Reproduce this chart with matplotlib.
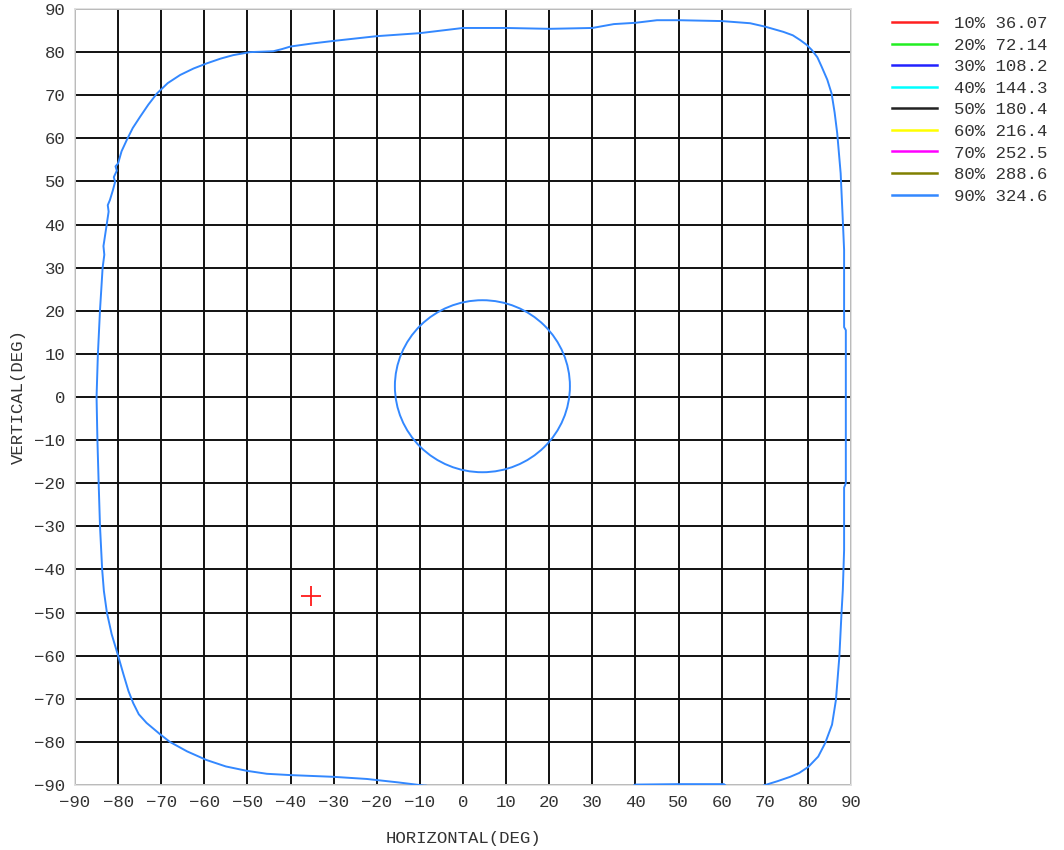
import matplotlib
matplotlib.use("Agg")
import matplotlib.pyplot as plt
from matplotlib.lines import Line2D
from matplotlib.patches import Ellipse

# Isointensity levels (percent of peak, candela)
level_pct = [10, 20, 30, 40, 50, 60, 70, 80, 90]
level_cd = ["36.07", "72.14", "108.2", "144.3", "180.4", "216.4", "252.5", "288.6", "324.6"]
level_colors = ["#ff2020", "#22ee22", "#2222ff", "#00ffff", "#222222",
                "#ffff00", "#ff00ff", "#808000", "#3388ff"]

# 90% contour, outer loop (deg)
outer_h = [-8.5, -15, -22.3, -30.1, -40.1, -45.5, -50.2, -55, -59.5, -64, -68, -70.3,
           -73.4, -75.2, -76.5, -77.6, -78.8, -80.0, -81.5, -82.6, -83.3, -83.7, -84.2,
           -84.5, -84.8, -85.0, -84.7, -84.2, -83.9, -83.6, -83.2, -83.4, -82.6, -82.2,
           -82.4, -81.9, -81.2, -80.7, -81.0, -80.3, -80.6, -80.0, -79.2, -78.0, -76.6,
           -74.9, -73.0, -71.0, -68.5, -65.6, -62.5, -59.4, -56.2, -53.3, -49.4, -46.5,
           -44.0, -42.0, -40.0, -35.0, -30, -20, -10, 0, 10, 20, 30, 35, 40, 45, 50, 60,
           66.6, 70.1, 74.3, 76.5, 78.2, 79.7, 80.9, 82.2, 83.2, 84.5, 85.5, 86.2, 86.8,
           87.6, 88.1, 88.4, 88.4, 88.8, 88.8, 88.4, 88.4, 88.1, 87.8, 87.3, 86.5, 85.6,
           84.0, 82.4, 80.1, 78.0, 75.9, 73.0, 70.1, 66, 62, 60.5, 50, 40, 39, 30, 0, -8.5]
outer_v = [-90.2, -89.4, -88.6, -88.1, -87.7, -87.4, -86.7, -85.7, -84.2, -82.2, -80.0,
           -78.2, -75.6, -73.6, -71.0, -68.2, -64.2, -60.0, -55, -50.0, -45, -40.0, -30.0,
           -20.4, -10.0, 0.0, 9.7, 20.2, 25, 29.9, 33, 35, 40.3, 43, 44.5, 45.7, 48, 49.9,
           51, 52.5, 53.5, 54.2, 57, 59.6, 62.4, 65.0, 67.8, 70.4, 72.8, 74.7, 76.2, 77.4,
           78.5, 79.3, 80.0, 80.1, 80.2, 80.7, 81.3, 82.0, 82.6, 83.7, 84.4, 85.6, 85.6,
           85.4, 85.6, 86.5, 86.8, 87.4, 87.4, 87.2, 86.7, 85.9, 84.7, 83.9, 82.8, 81.7,
           80.5, 78.8, 76.6, 73.6, 70.4, 66.0, 61.2, 51.9, 41.0, 34.1, 16.2, 15.5, -20.0,
           -21, -35.5, -44.8, -50.1, -60.2, -70.3, -76.0, -80.3, -83.4, -85.8, -87.2,
           -88.1, -89.1, -90.0, -91.5, -91, -89.8, -89.8, -89.9, -90.5, -93, -93, -90.2]

# 90% contour, inner loop: centre and extents (deg)
inner_center = (4.5, 2.5)
inner_width = 40.6
inner_height = 39.9

# Peak position (deg)
peak_h, peak_v = -35.3, -46.2

ticks = list(range(-90, 91, 10))

mono = "Liberation Mono"
txt_color = "#333333"

fig = plt.figure(figsize=(10.64, 8.5), dpi=100)
ax = fig.add_axes([75 / 1064, 1 - 785 / 850, 776 / 1064, 776 / 850])
ax.set_xlim(-90, 90)
ax.set_ylim(-90, 90)
ax.set_xticks(ticks)
ax.set_yticks(ticks)
ax.grid(True, color="#111111", linewidth=1.4, zorder=1)
ax.set_axisbelow(True)
ax.tick_params(length=0, pad=7, labelsize=12.5, labelcolor=txt_color)
for lab in ax.get_xticklabels() + ax.get_yticklabels():
    lab.set_fontfamily(mono)
for s in ax.spines.values():
    s.set_color("#dddddd")
    s.set_linewidth(1.2)

blue = level_colors[-1]
ax.plot(outer_h, outer_v, color=blue, linewidth=1.4, zorder=3,
        solid_joinstyle="round")
ax.add_patch(Ellipse(inner_center, inner_width, inner_height, fill=False,
                     edgecolor=blue, linewidth=1.4, zorder=3))
ax.plot([peak_h], [peak_v], marker="+", color="#ff1a1a", markersize=15,
        markeredgewidth=1.3, linestyle="none", zorder=4)

ax.set_xlabel("HORIZONTAL(DEG)", fontfamily=mono, fontsize=12.5, color=txt_color, labelpad=15)
ax.set_ylabel("VERTICAL(DEG)", fontfamily=mono, fontsize=12.5, color=txt_color, labelpad=6)

handles = [Line2D([], [], color=c, linewidth=1.8) for c in level_colors]
labels = [f"{p}% {cd}" for p, cd in zip(level_pct, level_cd)]
leg = fig.legend(handles, labels, loc="upper left", bbox_to_anchor=(885 / 1064, 1 - 9 / 850),
                 frameon=False, prop={"family": mono, "size": 12.5}, handlelength=2.6,
                 handletextpad=1.0, labelspacing=0.37, borderaxespad=0)
for t in leg.get_texts():
    t.set_color(txt_color)

fig.savefig("out.png", dpi=100)
